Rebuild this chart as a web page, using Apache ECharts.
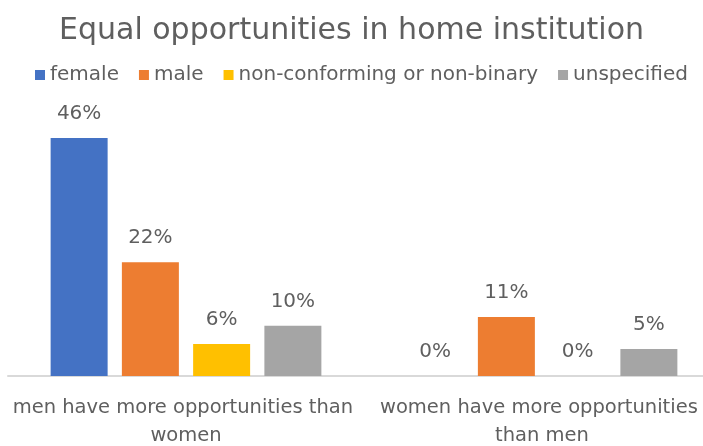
<!DOCTYPE html>
<html>
<head>
<meta charset="utf-8">
<script src="https://cdn.jsdelivr.net/npm/echarts@6/dist/echarts.min.js"></script>
<style>
  html, body { margin: 0; padding: 0; background: #fff; }
  #chart { width: 703px; height: 446px; }
</style>
</head>
<body>
<div id="chart"></div>
<script>
const categories = ['men have more opportunities than women', 'women have more opportunities than men'];
const seriesNames = ['female', 'male', 'non-conforming or non-binary', 'unspecified'];
const female = [46, 0];
const male = [22, 11.4];
const nonBinary = [6.2, 0];
const unspecified = [9.7, 5.2];
const colors = ['#4472c4', '#ed7d31', '#ffc000', '#a5a5a5'];

const font = "'DejaVu Sans', sans-serif";
const chart = echarts.init(document.getElementById('chart'));

const seriesData = [female, male, nonBinary, unspecified];

const option = {
  color: colors,
  textStyle: { fontFamily: font },
  title: {
    text: 'Equal opportunities in home institution',
    left: 'center',
    top: 11,
    textStyle: { fontSize: 30, fontWeight: 'normal', color: '#5f5f5f', fontFamily: font }
  },
  legend: {
    data: seriesNames,
    top: 60,
    left: 30,
    icon: 'rect',
    itemWidth: 10,
    itemHeight: 10,
    itemGap: 20,
    textStyle: { fontSize: 20, color: '#5f5f5f', fontFamily: font }
  },
  grid: {
    left: 8,
    width: 712,
    bottom: 70,
    height: 258.6,
    outerBoundsMode: 'none'
  },
  xAxis: {
    type: 'category',
    data: categories,
    axisTick: { show: false },
    axisLine: { lineStyle: { color: '#d9d9d9', width: 2 } },
    axisLabel: {
      interval: 0,
      fontSize: 19.5,
      color: '#5f5f5f',
      margin: 18,
      lineHeight: 28,
      width: 352,
      overflow: 'break',
      fontFamily: font
    }
  },
  yAxis: {
    type: 'value',
    min: 0,
    max: 50,
    show: false,
    splitLine: { show: false }
  },
  series: seriesNames.map(function (name, i) {
    return {
      name: name,
      type: 'bar',
      data: seriesData[i],
      barWidth: 57,
      barGap: '25%',
      label: {
        show: true,
        position: 'top',
        distance: 14,
        fontSize: 20,
        color: '#5f5f5f',
        fontFamily: font,
        formatter: function (p) { return Math.round(p.value) + '%'; }
      }
    };
  })
};

chart.setOption(option);
</script>
</body>
</html>
